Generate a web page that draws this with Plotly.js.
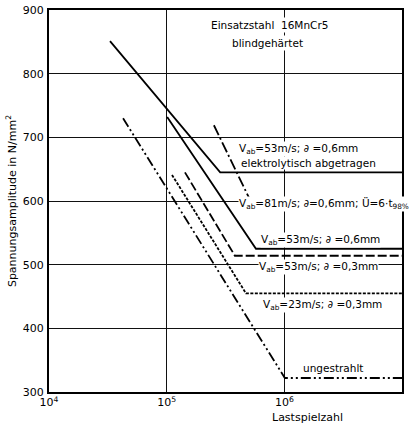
<!DOCTYPE html>
<html>
<head>
<meta charset="utf-8">
<script src="https://cdn.plot.ly/plotly-3.0.1.min.js"></script>
<style>html,body{margin:0;padding:0;background:#fff;}#chart{width:410px;height:429px;}</style>
</head>
<body>
<div id="chart"></div>
<script>
// Lastspielzahl (N) and Spannungsamplitude (N/mm²)
const nElektro = [3.3e4, 2.85e5, 1e7];
const sElektro = [851, 645, 645];
const n81 = [2.52e5, 5.1e5, 1e7];
const s81 = [719, 602, 602];
const n53a = [1.01e5, 5.74e5, 1e7];
const s53a = [732, 525, 525];
const n53b = [1.43e5, 3.8e5, 1e7];
const s53b = [645, 514, 514];
const n23 = [1.11e5, 4.72e5, 1e7];
const s23 = [641, 455, 455];
const nUng = [4.26e4, 1.01e6, 1e7];
const sUng = [730, 322, 322];

const xTickVals = [1e4, 1e5, 1e6, 1e7];
const xTickText = ['10<sup>4</sup>', '10<sup>5</sup>', '10<sup>6</sup>', '10<sup>7</sup>'];
const yTickVals = [300, 400, 500, 600, 700, 800, 900];

const labelTexts = [
  'V<sub>ab</sub>=53m/s; ∂ =0,6mm',
  'elektrolytisch abgetragen',
  'V<sub>ab</sub>=81m/s; ∂=0,6mm; Ü=6·t<sub>98%</sub>',
  'V<sub>ab</sub>=53m/s; ∂ =0,6mm',
  'V<sub>ab</sub>=53m/s; ∂ =0,3mm',
  'V<sub>ab</sub>=23m/s; ∂ =0,3mm',
  'ungestrahlt'
];

const FONT = 'DejaVu Sans, Arial, sans-serif';
function tr(x, y, dash, name) {
  return {x: x, y: y, type: 'scatter', mode: 'lines', name: name,
          line: {color: '#000', width: 1.8, dash: dash}, hoverinfo: 'skip'};
}
const data = [
  tr(nElektro, sElektro, 'solid', 'elektrolytisch abgetragen'),
  tr(n81, s81, '11px,3px,2px,3px', 'Vab=81m/s'),
  tr(n53a, s53a, 'solid', 'Vab=53m/s 0,6mm'),
  tr(n53b, s53b, '9px,3px', 'Vab=53m/s 0,3mm'),
  tr(n23, s23, '3px,1.5px', 'Vab=23m/s 0,3mm'),
  tr(nUng, sUng, '10px,3px,2px,3px,2px,3px', 'ungestrahlt')
];

const labelPos = [
  [5.606, 681], [5.623, 660], [5.606, 596], [5.793, 539], [5.776, 496], [5.81, 437], [6.15, 337]
];
const annotations = labelTexts.map((t, i) => ({
  text: t, x: labelPos[i][0], y: labelPos[i][1], xref: 'x', yref: 'y',
  xanchor: 'left', yanchor: 'middle', showarrow: false,
  font: {family: FONT, size: 10.5, color: '#000'}, bgcolor: '#fff', borderpad: 0
}));
annotations.push({text: 'Einsatzstahl  16MnCr5', x: 5.878, y: 876, xref: 'x', yref: 'y',
  showarrow: false, font: {family: FONT, size: 10.5, color: '#000'}, bgcolor: '#fff', borderpad: 1});
annotations.push({text: 'blindgehärtet', x: 5.86, y: 848, xref: 'x', yref: 'y',
  showarrow: false, font: {family: FONT, size: 10.5, color: '#000'}, bgcolor: '#fff', borderpad: 1});
annotations.push({text: 'Lastspielzahl', x: 0.731, y: -0.068, xref: 'paper', yref: 'paper',
  xanchor: 'center', yanchor: 'middle', showarrow: false, font: {family: FONT, size: 11, color: '#000'}});

const layout = {
  width: 410, height: 429,
  margin: {l: 49, r: 8, t: 10, b: 37},
  paper_bgcolor: '#fff', plot_bgcolor: '#fff',
  showlegend: false,
  font: {family: FONT, color: '#000'},
  xaxis: {type: 'log', range: [4, 7], tickvals: xTickVals, ticktext: xTickText,
          showgrid: true, gridcolor: '#111', gridwidth: 1, zeroline: false,
          showline: true, linecolor: '#000', linewidth: 2, mirror: true, ticks: '',
          ticklabelstandoff: -1,
          tickfont: {family: FONT, size: 11, color: '#000'}},
  yaxis: {range: [300, 900], tickvals: yTickVals,
          showgrid: true, gridcolor: '#111', gridwidth: 1, zeroline: false,
          showline: true, linecolor: '#000', linewidth: 2, mirror: true, ticks: '',
          ticklabelstandoff: 1,
          tickfont: {family: FONT, size: 11, color: '#000'},
          title: {text: 'Spannungsamplitude in N/mm<sup>2</sup>', font: {family: FONT, size: 11, color: '#000'}, standoff: 4}},
  annotations: annotations
};
Plotly.newPlot('chart', data, layout, {displayModeBar: false, staticPlot: true});
</script>
</body>
</html>
